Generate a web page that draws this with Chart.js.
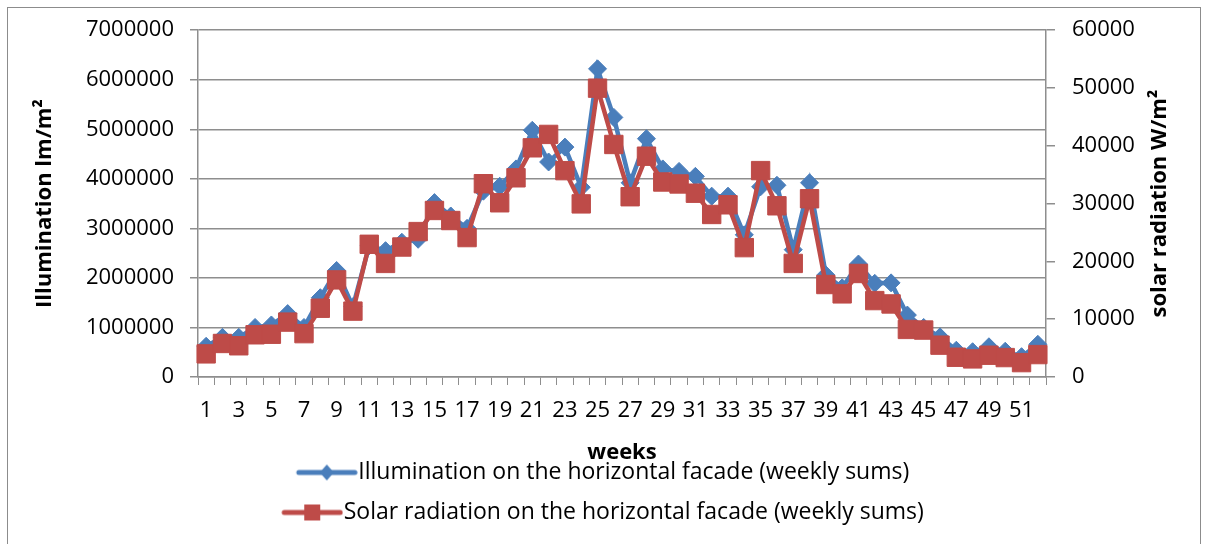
<!DOCTYPE html>
<html>
<head>
<meta charset="utf-8">
<script src="https://cdn.jsdelivr.net/npm/chart.js@4.4.1/dist/chart.umd.min.js"></script>
<style>
  body { margin: 0; background: #fff; }
  #wrap { position: relative; width: 1206px; height: 544px; overflow: hidden; }
  #frame { position: absolute; left: 7px; top: 7px; width: 1192px; height: 600px; border: 1px solid #8c8c8c; pointer-events: none; }
</style>
</head>
<body>
<div id="wrap">
  <canvas id="myChart" width="1206" height="544"></canvas>
  <div id="frame"></div>
</div>
<script>
const weeks = ['1', '2', '3', '4', '5', '6', '7', '8', '9', '10', '11', '12', '13',
  '14', '15', '16', '17', '18', '19', '20', '21', '22', '23', '24', '25', '26',
  '27', '28', '29', '30', '31', '32', '33', '34', '35', '36', '37', '38', '39',
  '40', '41', '42', '43', '44', '45', '46', '47', '48', '49', '50', '51', '52'];

// lm/m2, weekly sums
const illumination = [620000, 800000, 800000, 1000000, 1050000, 1280000, 1000000,
  1600000, 2150000, 1420000, 2650000, 2550000, 2720000, 2780000, 3520000, 3250000,
  3000000, 3750000, 3850000, 4200000, 4980000, 4340000, 4640000, 3830000, 6220000,
  5240000, 3920000, 4810000, 4200000, 4150000, 4050000, 3650000, 3650000, 2870000,
  3840000, 3870000, 2570000, 3920000, 2060000, 1800000, 2280000, 1890000, 1900000,
  1250000, 1000000, 810000, 540000, 510000, 610000, 520000, 410000, 660000];

// W/m2, weekly sums
const solarRadiation = [4000, 5800, 5400, 7300, 7400, 9500, 7500, 11900, 16800,
  11400, 22960, 19650, 22490, 25160, 28810, 27070, 24120, 33440, 30140, 34460,
  39650, 41970, 35700, 29950, 49970, 40230, 31190, 38200, 33740, 33400, 31800,
  28120, 29790, 22380, 35710, 29620, 19650, 30840, 16000, 14380, 17910, 13220,
  12640, 8230, 8120, 5510, 3420, 3130, 3770, 3360, 2490, 3880];

const seriesNames = [
  'Illumination on the horizontal facade (weekly sums)',
  'Solar radiation on the horizontal facade (weekly sums)',
];

const blue = '#4A7EBB';
const red = '#BE4B48';
const FONT = 'Open Sans';
const SIZE = 22;

// legend icon: line with the marker in the middle
const makeIcon = (color, shape) => {
  const c = document.createElement('canvas');
  c.width = 72;
  c.height = 22;
  const g = c.getContext('2d');
  g.strokeStyle = color;
  g.lineWidth = 5;
  g.lineCap = 'round';
  g.beginPath();
  g.moveTo(13, 11);
  g.lineTo(69, 11);
  g.stroke();
  g.fillStyle = color;
  g.beginPath();
  if (shape === 'diamond') {
    g.moveTo(41, 3); g.lineTo(48, 11); g.lineTo(41, 19); g.lineTo(34, 11);
  } else {
    g.rect(33, 3, 16, 16);
  }
  g.fill();
  return c;
};
const icons = [makeIcon(blue, 'diamond'), makeIcon(red, 'square')];

const rightTitle = {
  id: 'rightTitle',
  afterDraw(chart) {
    const { ctx, chartArea } = chart;
    ctx.save();
    ctx.translate(1160, (chartArea.top + chartArea.bottom) / 2);
    ctx.rotate(-Math.PI / 2);
    ctx.font = 'bold ' + SIZE + 'px "' + FONT + '"';
    ctx.fillStyle = '#000';
    ctx.textAlign = 'center';
    ctx.textBaseline = 'middle';
    ctx.fillText('solar radiation W/m²', 0, 0);
    ctx.restore();
  },
};

const tickFont = { family: FONT, size: SIZE };
const titleFont = { family: FONT, size: SIZE, weight: 'bold' };
const gridColor = '#8e8e8e';
const plain = (v) => String(v);

const ctx = document.getElementById('myChart').getContext('2d');
const myChart = new Chart(ctx, {
  type: 'line',
  data: {
    labels: weeks,
    datasets: [
      {
        label: seriesNames[0],
        data: illumination,
        yAxisID: 'y',
        borderColor: blue,
        backgroundColor: blue,
        borderWidth: 4.5,
        pointStyle: 'rectRot',
        pointRadius: 9,
        pointBorderWidth: 1,
        tension: 0,
        order: 2,
      },
      {
        label: seriesNames[1],
        data: solarRadiation,
        yAxisID: 'y1',
        borderColor: red,
        backgroundColor: red,
        borderWidth: 4.5,
        pointStyle: 'rect',
        pointRadius: 13,
        pointBorderWidth: 1,
        tension: 0,
        order: 1,
      },
    ],
  },
  options: {
    responsive: false,
    animation: false,
    layout: { padding: { top: 18, left: 0, right: 0, bottom: 10 } },
    plugins: {
      tooltip: { enabled: false },
      legend: {
        position: 'bottom',
        labels: {
          usePointStyle: true,
          pointStyleWidth: 50,
          boxHeight: 20,
          padding: 17,
          color: '#000',
          font: { family: FONT, size: 23 },
          sort: (a, b) => a.datasetIndex - b.datasetIndex,
          generateLabels: (chart) =>
            Chart.defaults.plugins.legend.labels.generateLabels(chart).map((item) => {
              item.pointStyle = icons[item.datasetIndex];
              return item;
            }),
        },
      },
    },
    scales: {
      x: {
        offset: true,
        afterFit: (s) => { s.height = 67; },
        grid: { display: true, drawOnChartArea: false, drawTicks: true, tickLength: 8, color: gridColor, offset: true },
        border: { color: gridColor, width: 1.5 },
        ticks: {
          autoSkip: false,
          maxRotation: 0,
          padding: 13,
          color: '#000',
          font: tickFont,
          callback: (v, i) => (i % 2 === 0 ? weeks[i] : ''),
        },
        title: {
          display: true,
          text: 'weeks',
          color: '#000',
          font: titleFont,
          padding: { top: 0, bottom: -22 },
        },
      },
      y: {
        position: 'left',
        min: 0,
        max: 7000000,
        afterFit: (s) => { s.width = 198; },
        grid: { color: gridColor, lineWidth: 1.5, tickLength: 8 },
        border: { color: gridColor, width: 1.5 },
        ticks: { stepSize: 1000000, padding: 16, color: '#000', font: tickFont, callback: plain },
        title: {
          display: true,
          text: 'Illumination lm/m²',
          color: '#000',
          font: titleFont,
          padding: { top: 32, bottom: 0 },
        },
      },
      y1: {
        position: 'right',
        min: 0,
        max: 60000,
        afterFit: (s) => { s.width = 160; },
        grid: { drawOnChartArea: false, color: gridColor, lineWidth: 1.5, tickLength: 9 },
        border: { color: gridColor, width: 1.5 },
        ticks: { stepSize: 10000, padding: 17, color: '#000', font: tickFont, callback: plain },
      },
    },
  },
  plugins: [rightTitle],
});
</script>
</body>
</html>
